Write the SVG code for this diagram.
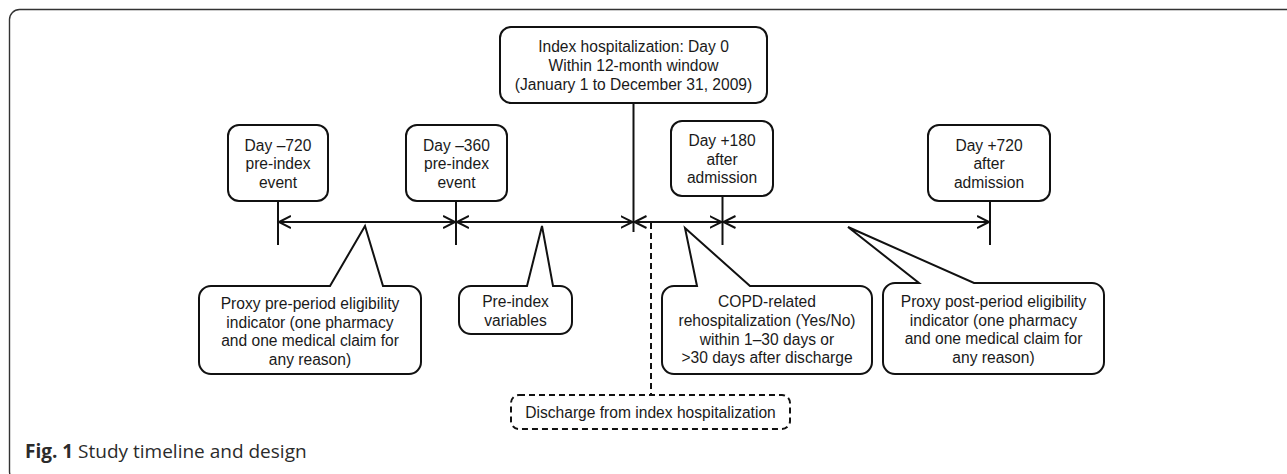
<svg xmlns="http://www.w3.org/2000/svg" width="1287" height="474" viewBox="0 0 1287 474">
<defs>
<style>
.box{fill:#fff;stroke:#111;stroke-width:2}
.ln{stroke:#111;stroke-width:2;fill:none}
.dash{stroke:#111;stroke-width:2;fill:none;stroke-dasharray:6,4}
.t{font-family:"Liberation Sans",Arial,sans-serif;font-size:15.6px;fill:#1a1a1a;text-anchor:middle}
.cap{font-family:"Open Sans",sans-serif;font-size:19px;fill:#2b2b2b}
</style>
<marker id="ah" markerUnits="userSpaceOnUse" markerWidth="16" markerHeight="16" refX="12" refY="7" orient="auto-start-reverse" viewBox="0 0 16 16">
<path d="M0,1 L12,7 L0,13" fill="none" stroke="#111" stroke-width="2"/>
</marker>
</defs>
<rect width="1287" height="474" fill="#fff"/>
<rect x="9.5" y="9.5" width="1290" height="472" rx="10" fill="none" stroke="#333" stroke-width="1.4"/>

<g id="connectors">
<line class="ln" x1="278" y1="201" x2="278" y2="245"/>
<line class="ln" x1="456" y1="201" x2="456" y2="245"/>
<line class="ln" x1="633.5" y1="103" x2="633.5" y2="232"/>
<line class="ln" x1="722.5" y1="196" x2="722.5" y2="245"/>
<line class="ln" x1="990" y1="201" x2="990" y2="245"/>
<line class="ln" x1="279" y1="222" x2="455" y2="222" marker-start="url(#ah)" marker-end="url(#ah)"/>
<line class="ln" x1="457" y1="222" x2="632.5" y2="222" marker-start="url(#ah)" marker-end="url(#ah)"/>
<line class="ln" x1="634.5" y1="222" x2="721.5" y2="222" marker-start="url(#ah)" marker-end="url(#ah)"/>
<line class="ln" x1="723.5" y1="222" x2="989" y2="222" marker-start="url(#ah)" marker-end="url(#ah)"/>
<line class="dash" x1="651" y1="223" x2="651" y2="395"/>
</g>

<g id="day-720">
<rect class="box" x="228" y="125" width="100" height="76" rx="11"/>
<text class="t" x="278" y="150.7">Day –720</text>
<text class="t" x="278" y="169.4">pre-index</text>
<text class="t" x="278" y="188">event</text>
</g>

<g id="day-360">
<rect class="box" x="406" y="125" width="101" height="76" rx="11"/>
<text class="t" x="456.5" y="150.7">Day –360</text>
<text class="t" x="456.5" y="169.4">pre-index</text>
<text class="t" x="456.5" y="188">event</text>
</g>

<g id="index">
<rect class="box" x="500" y="27" width="267" height="76" rx="11"/>
<text class="t" x="633.5" y="52.4">Index hospitalization: Day 0</text>
<text class="t" x="633.5" y="71">Within 12-month window</text>
<text class="t" x="633.5" y="89.7">(January 1 to December 31, 2009)</text>
</g>

<g id="day180">
<rect class="box" x="671" y="121" width="102" height="75" rx="11"/>
<text class="t" x="722" y="146">Day +180</text>
<text class="t" x="722" y="165">after</text>
<text class="t" x="722" y="183.4">admission</text>
</g>

<g id="day720">
<rect class="box" x="928" y="125" width="122" height="76" rx="11"/>
<text class="t" x="989" y="150.7">Day +720</text>
<text class="t" x="989" y="169.4">after</text>
<text class="t" x="989" y="188">admission</text>
</g>

<g id="pre-period">
<path class="box" d="M211,286 L330,286 L365,226 L383,286 L409,286 A12,12 0 0 1 421,298 L421,362 A12,12 0 0 1 409,374 L211,374 A12,12 0 0 1 199,362 L199,298 A12,12 0 0 1 211,286 Z"/>
<text class="t" x="310" y="308.8">Proxy pre-period eligibility</text>
<text class="t" x="310" y="327.5">indicator (one pharmacy</text>
<text class="t" x="310" y="346.2">and one medical claim for</text>
<text class="t" x="310" y="364.8">any reason)</text>
</g>

<g id="pre-index-vars">
<path class="box" d="M471,286 L527,286 L542,226 L553,286 L560,286 A12,12 0 0 1 572,298 L572,322 A12,12 0 0 1 560,334 L471,334 A12,12 0 0 1 459,322 L459,298 A12,12 0 0 1 471,286 Z"/>
<text class="t" x="515.5" y="307">Pre-index</text>
<text class="t" x="515.5" y="325.7">variables</text>
</g>

<g id="copd">
<path class="box" d="M674,286 L697,286 L685,228 L750,286 L860,286 A12,12 0 0 1 872,298 L872,362 A12,12 0 0 1 860,374 L674,374 A12,12 0 0 1 662,362 L662,298 A12,12 0 0 1 674,286 Z"/>
<text class="t" x="767" y="307.2">COPD-related</text>
<text class="t" x="767" y="326">rehospitalization (Yes/No)</text>
<text class="t" x="767" y="344.8">within 1–30 days or</text>
<text class="t" x="767" y="363.2">&gt;30 days after discharge</text>
</g>

<g id="post-period">
<path class="box" d="M895,283 L919,283 L848,227 L974,283 L1092,283 A12,12 0 0 1 1104,295 L1104,362 A12,12 0 0 1 1092,374 L895,374 A12,12 0 0 1 883,362 L883,295 A12,12 0 0 1 895,283 Z"/>
<text class="t" x="993.5" y="306.5">Proxy post-period eligibility</text>
<text class="t" x="993.5" y="325.5">indicator (one pharmacy</text>
<text class="t" x="993.5" y="343.8">and one medical claim for</text>
<text class="t" x="993.5" y="363.2">any reason)</text>
</g>

<g id="discharge">
<rect class="dash" x="511" y="395" width="279" height="34" rx="8" fill="#fff"/>
<text class="t" x="650.5" y="418">Discharge from index hospitalization</text>
</g>

<text class="cap" x="25" y="458"><tspan font-weight="bold">Fig. 1</tspan> Study timeline and design</text>
</svg>
